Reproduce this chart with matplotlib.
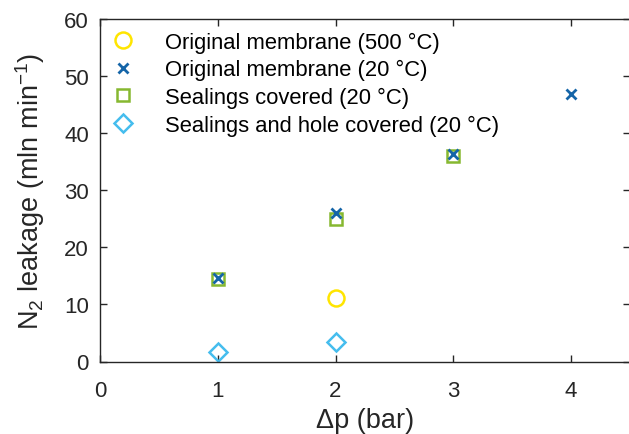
import matplotlib
matplotlib.use("Agg")
import matplotlib.pyplot as plt

plt.rcParams['font.family'] = ['Liberation Sans', 'DejaVu Sans']
plt.rcParams['mathtext.fontset'] = 'custom'
plt.rcParams['mathtext.rm'] = 'Liberation Sans'
plt.rcParams['mathtext.it'] = 'Liberation Sans'

# Pressure difference (bar) and N2 leakage (mln/min) for each test condition
dp_500 = [2]
leak_500 = [11.2]

dp_orig20 = [1, 2, 3, 4]
leak_orig20 = [14.6, 26.0, 36.4, 46.9]

dp_seal = [1, 2, 3]
leak_seal = [14.4, 24.9, 36.0]

dp_hole = [1, 2]
leak_hole = [1.6, 3.4]

labels = [
    "Original membrane (500 °C)",
    "Original membrane (20 °C)",
    "Sealings covered (20 °C)",
    "Sealings and hole covered (20 °C)",
]

x_ticks = [0, 1, 2, 3, 4]
y_ticks = [0, 10, 20, 30, 40, 50, 60]

ink = '#262626'

fig = plt.figure(figsize=(6.29, 4.35), dpi=100)
ax = fig.add_axes([100 / 629, 72.5 / 435, 530 / 629, 342.5 / 435])

ax.plot(dp_500, leak_500, linestyle='none', marker='o', markersize=11.5,
        markerfacecolor='none', markeredgecolor='#FFE500', markeredgewidth=1.8,
        label=labels[0])
ax.plot(dp_orig20, leak_orig20, linestyle='none', marker='x', markersize=7,
        color='#1565A8', markeredgewidth=2.0, label=labels[1], zorder=3)
ax.plot(dp_seal, leak_seal, linestyle='none', marker='s', markersize=9,
        markerfacecolor='none', markeredgecolor='#86B830', markeredgewidth=1.8,
        label=labels[2])
ax.plot(dp_hole, leak_hole, linestyle='none', marker='D', markersize=9,
        markerfacecolor='none', markeredgecolor='#45BDEE', markeredgewidth=1.8,
        label=labels[3])

ax.set_xlim(0, 4.5)
ax.set_ylim(0, 60)
ax.set_xticks(x_ticks)
ax.set_yticks(y_ticks)
ax.tick_params(direction='in', length=5, width=1, colors=ink,
               labelsize=16, top=True, right=True, labelcolor=ink)
ax.tick_params(axis='x', pad=13)
ax.tick_params(axis='y', pad=8)
for s in ax.spines.values():
    s.set_color(ink)
    s.set_linewidth(1)

ax.set_xlabel("Δp (bar)", fontsize=19.5, color=ink, labelpad=5)
ax.set_ylabel("N$_2$ leakage (mln min$^{-1}$)", fontsize=19.5, color=ink,
              labelpad=12)

ax.legend(loc='upper left', frameon=False, fontsize=15.8, handletextpad=1.1,
          borderaxespad=0, borderpad=0.25, labelspacing=0.3, handlelength=1.6,
          bbox_to_anchor=(0.0, 1 - 7 / 342.5))

fig.savefig("out.png", dpi=100)
